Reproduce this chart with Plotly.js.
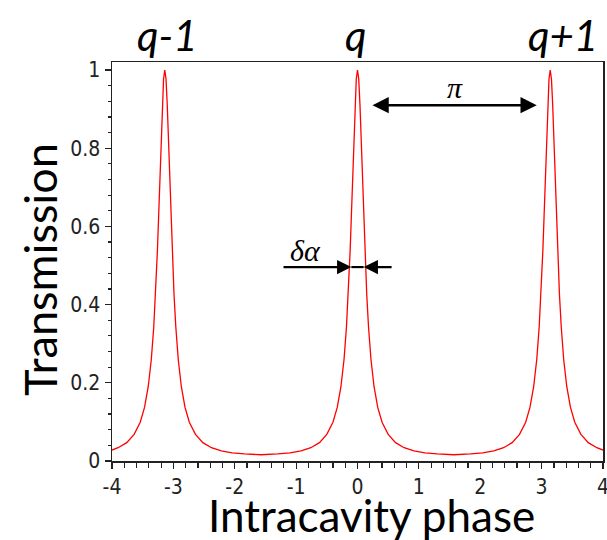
<!DOCTYPE html>
<html>
<head>
<meta charset="utf-8">
<script src="https://cdn.plot.ly/plotly-3.0.1.min.js"></script>
<style>html,body{margin:0;padding:0;background:#fff;}#chart{width:607px;height:540px;}</style>
</head>
<body>
<div id="chart"></div>
<script>
// Intracavity phase (x) and transmission (y)
const phase = [
  -4.00, -3.90, -3.76, -3.64, -3.54, -3.47, -3.41, -3.36, -3.32, -3.29, -3.26, -3.24, -3.22, -3.20, -3.18, -3.16,
  -3.14,
  -3.12, -3.10, -3.08, -3.06, -3.04, -3.02, -2.99, -2.96, -2.92, -2.87, -2.81, -2.74, -2.64, -2.52, -2.38, -2.22, -2.04, -1.84,
  -1.57,
  -1.30, -1.10, -0.92, -0.76, -0.62, -0.50, -0.40, -0.33, -0.27, -0.22, -0.18, -0.15, -0.12, -0.10, -0.08, -0.06, -0.04, -0.02,
  0.00,
  0.02, 0.04, 0.06, 0.08, 0.10, 0.12, 0.15, 0.18, 0.22, 0.27, 0.33, 0.40, 0.50, 0.62, 0.76, 0.92, 1.10, 1.30,
  1.57,
  1.84, 2.04, 2.22, 2.38, 2.52, 2.64, 2.74, 2.81, 2.87, 2.92, 2.96, 2.99, 3.02, 3.04, 3.06, 3.08, 3.10, 3.12,
  3.14,
  3.16, 3.18, 3.20, 3.22, 3.24, 3.26, 3.29, 3.32, 3.36, 3.41, 3.47, 3.54, 3.64, 3.76, 3.90, 4.00
];
const transmission = [
  0.028, 0.034, 0.047, 0.068, 0.099, 0.137, 0.190, 0.259, 0.342, 0.427, 0.538, 0.626, 0.723, 0.823, 0.912, 0.977,
  1.000,
  0.977, 0.912, 0.823, 0.723, 0.626, 0.538, 0.427, 0.342, 0.259, 0.190, 0.137, 0.099, 0.068, 0.047, 0.034, 0.026, 0.021, 0.018,
  0.016,
  0.018, 0.021, 0.026, 0.034, 0.047, 0.068, 0.099, 0.137, 0.190, 0.259, 0.342, 0.427, 0.538, 0.626, 0.723, 0.823, 0.912, 0.977,
  1.000,
  0.977, 0.912, 0.823, 0.723, 0.626, 0.538, 0.427, 0.342, 0.259, 0.190, 0.137, 0.099, 0.068, 0.047, 0.034, 0.026, 0.021, 0.018,
  0.016,
  0.018, 0.021, 0.026, 0.034, 0.047, 0.068, 0.099, 0.137, 0.190, 0.259, 0.342, 0.427, 0.538, 0.626, 0.723, 0.823, 0.912, 0.977,
  1.000,
  0.977, 0.912, 0.823, 0.723, 0.626, 0.538, 0.427, 0.342, 0.259, 0.190, 0.137, 0.099, 0.068, 0.047, 0.034, 0.028
];
const xTickVals = [-4, -3, -2, -1, 0, 1, 2, 3, 4];
const xTickText = ['-4', '-3', '-2', '-1', '0', '1', '2', '3', '4'];
const yTickVals = [0, 0.2, 0.4, 0.6, 0.8, 1];
const yTickText = ['0', '0.2', '0.4', '0.6', '0.8', '1'];
const modeLabels = ['q-1', 'q', 'q+1'];
const modeLabelX = [-3.10, -0.04, 3.35];
const xTitle = 'Intracavity phase';
const yTitle = 'Transmission';

const titleFont = 'Lato, "Open Sans", sans-serif';
const tickFont = '"Liberation Sans Narrow", "Arial Narrow", "DejaVu Sans Condensed", "Liberation Sans", sans-serif';
const greekFont = '"Liberation Serif", "DejaVu Serif", serif';

const annotations = modeLabels.map((t, i) => ({
  text: t, xref: 'x', yref: 'paper', x: modeLabelX[i], y: 1.068,
  xanchor: 'center', yanchor: 'middle', showarrow: false,
  font: {family: titleFont, size: 42, color: '#000', style: 'italic'}
}));
// axis titles
annotations.push({
  text: xTitle, xref: 'paper', yref: 'paper', x: 0.5275, y: -0.136,
  xanchor: 'center', yanchor: 'middle', showarrow: false,
  font: {family: titleFont, size: 44, color: '#000'}
});
annotations.push({
  text: yTitle, xref: 'paper', yref: 'paper', x: -0.1466, y: 0.4787,
  xanchor: 'center', yanchor: 'middle', showarrow: false, textangle: -90,
  font: {family: titleFont, size: 45, color: '#000'}
});
// pi spacing double arrow
annotations.push({
  text: '', xref: 'x', yref: 'y', axref: 'x', ayref: 'y',
  x: 2.92, y: 0.91, ax: 0.22, ay: 0.91,
  showarrow: true, arrowhead: 2, startarrowhead: 2, arrowside: 'end+start',
  arrowsize: 1.3, startarrowsize: 1.3, arrowwidth: 2.5, arrowcolor: '#000'
});
annotations.push({
  text: 'π', xref: 'x', yref: 'y', x: 1.59, y: 0.955, showarrow: false,
  xanchor: 'center', yanchor: 'middle',
  font: {family: greekFont, size: 30, color: '#000', style: 'italic'}
});
// linewidth arrows
annotations.push({
  text: '', xref: 'x', yref: 'y', axref: 'x', ayref: 'y',
  x: -0.10, y: 0.496, ax: -1.23, ay: 0.496,
  showarrow: true, arrowhead: 2, arrowsize: 1.3, arrowwidth: 2.2, arrowcolor: '#000'
});
annotations.push({
  text: '', xref: 'x', yref: 'y', axref: 'x', ayref: 'y',
  x: 0.10, y: 0.496, ax: 0.58, ay: 0.496,
  showarrow: true, arrowhead: 2, arrowsize: 1.3, arrowwidth: 2.2, arrowcolor: '#000'
});
annotations.push({
  text: 'δα', xref: 'x', yref: 'y', x: -0.85, y: 0.538, showarrow: false,
  xanchor: 'center', yanchor: 'middle',
  font: {family: greekFont, size: 30, color: '#000', style: 'italic'}
});

const trace = {
  x: phase, y: transmission, type: 'scatter', mode: 'lines',
  line: {color: '#ff0000', width: 1.3}, hoverinfo: 'skip'
};

const layout = {
  width: 607, height: 540,
  margin: {l: 112, r: 4, t: 62, b: 79},
  paper_bgcolor: '#fff', plot_bgcolor: '#fff',
  showlegend: false,
  xaxis: {
    range: [-4, 4], tickmode: 'array', tickvals: xTickVals, ticktext: xTickText,
    ticks: 'outside', ticklen: 6, tickwidth: 1.2, tickcolor: '#222',
    minor: {dtick: 0.2, ticks: 'outside', ticklen: 5, tickwidth: 1.2, tickcolor: '#222', showgrid: false},
    showgrid: false, zeroline: false, showline: true, mirror: true,
    linecolor: '#222', linewidth: 1.5, ticklabeloverflow: 'allow',
    tickfont: {family: tickFont, size: 21, color: '#222'}
  },
  yaxis: {
    range: [0, 1.0205], tickmode: 'array', tickvals: yTickVals, ticktext: yTickText,
    ticks: 'outside', ticklen: 6, tickwidth: 1.2, tickcolor: '#222',
    minor: {dtick: 0.04, ticks: 'outside', ticklen: 3, tickwidth: 1.2, tickcolor: '#222', showgrid: false},
    showgrid: false, zeroline: false, showline: true, mirror: true,
    linecolor: '#222', linewidth: 1.5, ticklabeloverflow: 'allow',
    tickfont: {family: tickFont, size: 21, color: '#222'}
  },
  shapes: [{
    type: 'line', xref: 'x', yref: 'y', x0: -0.10, x1: 0.10, y0: 0.496, y1: 0.496,
    line: {color: '#000', width: 2.2}
  }],
  annotations: annotations
};

Plotly.newPlot('chart', [trace], layout, {displayModeBar: false, staticPlot: true});
</script>
</body>
</html>
